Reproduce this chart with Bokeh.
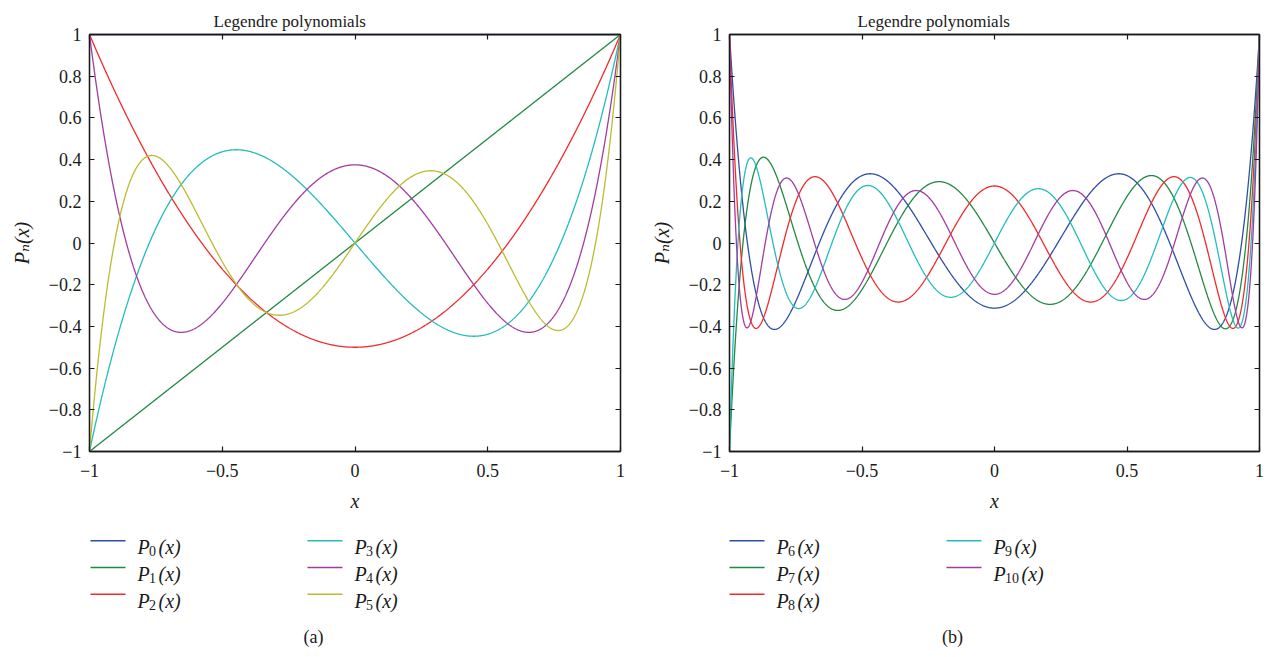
import numpy as np
from bokeh.plotting import figure
from bokeh.models import Range1d, LinearAxis, FixedTicker, CustomJSTickFormatter, ColumnDataSource
from bokeh.layouts import column, row
from bokeh.embed import file_html
from bokeh.resources import INLINE
from bokeh.core.properties import value

# ---- data: Legendre polynomial coefficients (ascending powers of x) / denominator
P0_NUM = [1]; P0_DEN = 1
P1_NUM = [0, 1]; P1_DEN = 1
P2_NUM = [-1, 0, 3]; P2_DEN = 2
P3_NUM = [0, -3, 0, 5]; P3_DEN = 2
P4_NUM = [3, 0, -30, 0, 35]; P4_DEN = 8
P5_NUM = [0, 15, 0, -70, 0, 63]; P5_DEN = 8
P6_NUM = [-5, 0, 105, 0, -315, 0, 231]; P6_DEN = 16
P7_NUM = [0, -35, 0, 315, 0, -693, 0, 429]; P7_DEN = 16
P8_NUM = [35, 0, -1260, 0, 6930, 0, -12012, 0, 6435]; P8_DEN = 128
P9_NUM = [0, 315, 0, -4620, 0, 18018, 0, -25740, 0, 12155]; P9_DEN = 128
P10_NUM = [-63, 0, 3465, 0, -30030, 0, 90090, 0, -109395, 0, 46189]; P10_DEN = 256

ORDERS_A = [0, 1, 2, 3, 4, 5]
ORDERS_B = [6, 7, 8, 9, 10]
NUMS_A = [P0_NUM, P1_NUM, P2_NUM, P3_NUM, P4_NUM, P5_NUM]
DENS_A = [P0_DEN, P1_DEN, P2_DEN, P3_DEN, P4_DEN, P5_DEN]
NUMS_B = [P6_NUM, P7_NUM, P8_NUM, P9_NUM, P10_NUM]
DENS_B = [P6_DEN, P7_DEN, P8_DEN, P9_DEN, P10_DEN]

X_TICKS = [-1, -0.5, 0, 0.5, 1]
Y_TICKS = [-1, -0.8, -0.6, -0.4, -0.2, 0, 0.2, 0.4, 0.6, 0.8, 1]
TITLE = "Legendre polynomials"
X_LABEL = "x"
Y_LABEL = "P\u2099(x)"
CAPTIONS = ["(a)", "(b)"]

COLORS = ["#2f4ea5", "#228844", "#f22a2a", "#25bcbc", "#a13ca1", "#bcbc2f"]

FONT = "'Liberation Serif', 'DejaVu Serif', serif"
INK = "#1a1a1a"

fmt = CustomJSTickFormatter(code="""
const a = Math.abs(tick);
let s;
if (a < 1e-9) { s = "0"; }
else if (Math.abs(a - Math.round(a)) < 1e-9) { s = Math.round(a).toString(); }
else { s = a.toFixed(1); }
return (tick < -1e-9 ? "\u2212" : "") + s;
""")

XS = np.linspace(-1, 1, 1201)

MAIN_H = 527
BOTTOM = 76
LEG_H = 657 - MAIN_H
LEG_SHIFT = 8


def evaluate(num, den):
    return np.polyval(list(reversed(num)), XS) / den


def style_axis(ax, ticks, labels=True):
    ax.ticker = FixedTicker(ticks=ticks)
    ax.major_tick_in = 5
    ax.major_tick_out = 0
    ax.major_tick_line_color = INK
    ax.major_tick_line_width = 1.2
    ax.minor_tick_line_color = None
    ax.axis_line_color = INK
    ax.axis_line_width = 1.3
    if labels:
        ax.formatter = fmt
        ax.major_label_text_font = FONT
        ax.major_label_text_font_size = "18px"
        ax.major_label_text_color = INK
        ax.axis_label_text_font = FONT
        ax.axis_label_text_font_size = "20px"
        ax.axis_label_text_font_style = "italic"
        ax.axis_label_text_color = INK
    else:
        ax.major_label_text_font_size = "1px"
        ax.major_label_text_color = None
        ax.major_label_standoff = 0


def make_panel(nums, dens, width, bl, br, title_offset):
    p = figure(width=width, height=MAIN_H, x_range=Range1d(-1, 1), y_range=Range1d(-1, 1),
               output_backend="svg", toolbar_location=None,
               min_border_left=bl, min_border_right=br, min_border_top=34, min_border_bottom=BOTTOM)
    p.grid.visible = False
    p.outline_line_color = INK
    p.outline_line_width = 1.3
    p.background_fill_color = "white"
    p.border_fill_color = "white"
    p.title.text = TITLE
    p.title.align = "left"
    p.title.offset = title_offset
    p.title.text_font = FONT
    p.title.text_font_size = "17px"
    p.title.text_font_style = "normal"
    p.title.text_color = INK
    p.title.standoff = 8

    xa = p.xaxis[0]
    ya = p.yaxis[0]
    style_axis(xa, X_TICKS)
    style_axis(ya, Y_TICKS)
    xa.axis_label = X_LABEL
    ya.axis_label = Y_LABEL
    xa.major_label_standoff = 12
    ya.major_label_standoff = 8
    xa.axis_label_standoff = 10
    ya.axis_label_standoff = 13

    top = LinearAxis()
    style_axis(top, X_TICKS, labels=False)
    p.add_layout(top, "above")
    right = LinearAxis()
    style_axis(right, Y_TICKS, labels=False)
    p.add_layout(right, "right")

    for i, (num, den) in enumerate(zip(nums, dens)):
        src = ColumnDataSource(dict(x=XS, y=evaluate(num, den)))
        p.line("x", "y", source=src, line_color=COLORS[i], line_width=1.3)
    return p


def make_legend(width, orders, col_x, caption, caption_x):
    h = LEG_H
    off = MAIN_H + LEG_SHIFT
    lg = figure(width=width, height=h, x_range=Range1d(0, width), y_range=Range1d(h, 0),
                output_backend="svg", toolbar_location=None, min_border=0,
                x_axis_type=None, y_axis_type=None, title=None)
    lg.grid.visible = False
    lg.outline_line_color = None
    rows_y = [548.3 - off, 575.0 - off, 601.7 - off]
    lx0, lx1, ly, px, py, sx, sy, tx, ty, cols, subs = [], [], [], [], [], [], [], [], [], [], []
    for i, n in enumerate(orders):
        c = i // 3
        r = i % 3
        x0 = col_x[c]
        y = rows_y[r]
        lx0.append(x0); lx1.append(x0 + 35); ly.append(y); cols.append(COLORS[i])
        t0 = x0 + 47
        px.append(t0); py.append(y + 6.5)
        sx.append(t0 + 11.5); sy.append(y + 10.5)
        subs.append(str(n))
        tx.append(t0 + 11.5 + 7 * len(str(n)) + 2.5); ty.append(y + 6.5)
    lg.segment(x0=lx0, y0=ly, x1=lx1, y1=ly, line_color=cols, line_width=1.6)
    lg.text(x=px, y=py, text=["P"] * len(px), text_font=value(FONT), text_font_style="italic",
            text_font_size="20px", text_color=INK, text_baseline="alphabetic", text_align="left")
    lg.text(x=sx, y=sy, text=subs, text_font=value(FONT), text_font_size="14px",
            text_color=INK, text_baseline="alphabetic", text_align="left")
    lg.text(x=tx, y=ty, text=["(x)"] * len(tx), text_font=value(FONT), text_font_style="italic",
            text_font_size="20px", text_color=INK, text_baseline="alphabetic", text_align="left")
    lg.text(x=[caption_x], y=[644 - off], text=[caption], text_font=value(FONT), text_font_size="18px",
            text_color=INK, text_baseline="alphabetic", text_align="center")
    return lg


pa = make_panel(NUMS_A, DENS_A, 640, 89, 20, 124)
pb = make_panel(NUMS_B, DENS_B, 628, 89, 9, 128)
la = make_legend(640, ORDERS_A, [90, 307], CAPTIONS[0], 313)
lb = make_legend(628, ORDERS_B, [89, 306], CAPTIONS[1], 312)

layout = column(row(pa, pb), row(la, lb))
open("out.html", "w").write(file_html(layout, INLINE))
